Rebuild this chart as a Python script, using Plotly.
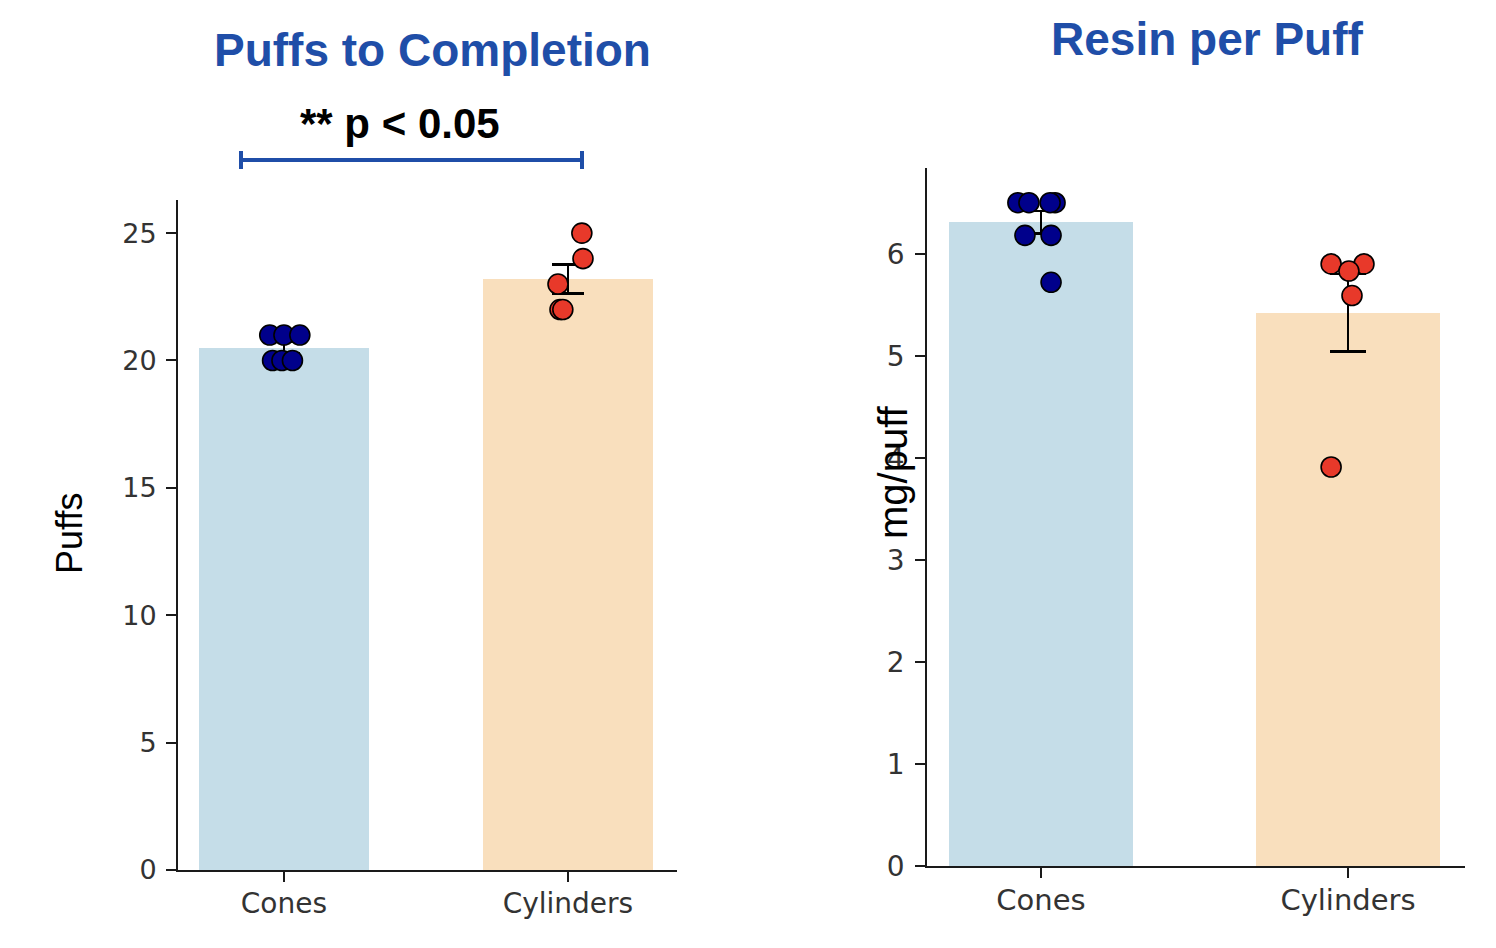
import plotly.graph_objects as go

# ---- data ----
categories = ["Cones", "Cylinders"]

# Puffs to Completion
puffs_cones = [21, 21, 21, 20, 20, 20]
puffs_cones_jit = [-0.05, 0.0, 0.056, -0.04, -0.007, 0.03]
puffs_cyl = [25, 24, 23, 22, 22]
puffs_cyl_jit = [0.049, 0.053, -0.035, -0.028, -0.018]
puffs_means = [20.5, 23.2]
puffs_sems = [0.22, 0.58]

# Resin per Puff (mg/puff)
resin_cones = [6.5, 6.5, 6.5, 6.5, 6.18, 6.18, 5.72]
resin_cones_jit = [-0.075, -0.039, 0.046, 0.03, -0.052, 0.033, 0.033]
resin_cyl = [5.90, 5.90, 5.83, 5.59, 3.91]
resin_cyl_jit = [-0.055, 0.052, 0.003, 0.013, -0.055]
resin_means = [6.31, 5.42]
resin_sems = [0.11, 0.38]

left_ticks = [0, 5, 10, 15, 20, 25]
right_ticks = [0, 1, 2, 3, 4, 5, 6]

BAR_COLORS = ["#c5dde8", "#f9dfbd"]
PT_COLORS = ["#00008b", "#e8392a"]
TITLE_BLUE = "#1f4ea8"
W, H = 1496, 948

fig = go.Figure()


def add_panel(means, sems, groups, jits, xa, ya, cap):
    fig.add_trace(go.Bar(
        x=[0, 1], y=means, width=0.6, marker=dict(color=BAR_COLORS, line=dict(width=0)),
        error_y=dict(type="data", array=sems, visible=True, color="black",
                     thickness=2.6, width=cap),
        xaxis=xa, yaxis=ya, showlegend=False, hoverinfo="skip"))
    for i, (vals, jit) in enumerate(zip(groups, jits)):
        fig.add_trace(go.Scatter(
            x=[i + j for j in jit], y=vals, mode="markers",
            marker=dict(size=20, color=PT_COLORS[i], line=dict(color="black", width=1.6)),
            xaxis=xa, yaxis=ya, showlegend=False, hoverinfo="skip"))


add_panel(puffs_means, puffs_sems, [puffs_cones, puffs_cyl],
          [puffs_cones_jit, puffs_cyl_jit], "x", "y", 16)
add_panel(resin_means, resin_sems, [resin_cones, resin_cyl],
          [resin_cones_jit, resin_cyl_jit], "x2", "y2", 18)


def px(v):
    return v / W


def py(v):
    return 1 - v / H


axis_common = dict(showline=True, linecolor="#1a1a1a", linewidth=1.8, ticks="outside",
                   ticklen=10, tickwidth=1.6, tickcolor="#1a1a1a", showgrid=False,
                   zeroline=False, mirror=False, automargin=False)

fig.update_layout(
    width=W, height=H, autosize=False,
    margin=dict(l=0, r=0, t=0, b=0, pad=0, autoexpand=False),
    paper_bgcolor="white", plot_bgcolor="white", bargap=0,
    xaxis=dict(domain=[px(178), px(677)], range=[-0.373, 1.384], tickvals=[0, 1],
               ticktext=categories, anchor="y", ticklabelstandoff=-3,
               tickfont=dict(family="DejaVu Sans", size=28, color="#333"), **axis_common),
    yaxis=dict(domain=[py(870), py(200)], range=[0, 26.3], tickvals=left_ticks,
               anchor="x", ticklabelstandoff=4,
               tickfont=dict(family="DejaVu Sans", size=27, color="#333"),
               **axis_common),
    xaxis2=dict(domain=[px(927), px(1465)], range=[-0.371, 1.381], tickvals=[0, 1],
                ticktext=categories, anchor="y2", ticklabelstandoff=-3,
                tickfont=dict(family="DejaVu Sans", size=29, color="#333"), **axis_common),
    yaxis2=dict(domain=[py(866), py(168)], range=[0, 6.84], tickvals=right_ticks,
                anchor="x2", ticklabelstandoff=5,
                tickfont=dict(family="DejaVu Sans", size=28, color="#333"),
                **axis_common),
)

ann = [
    dict(text="<b>Puffs to Completion</b>", x=px(432), y=py(50), font=dict(size=46, color=TITLE_BLUE)),
    dict(text="<b>Resin per Puff</b>", x=px(1207), y=py(39), font=dict(size=46, color=TITLE_BLUE)),
    dict(text="<b>** p < 0.05</b>", x=px(400), y=py(124), font=dict(size=42, color="black")),
    dict(text="Puffs", x=px(69), y=py(534), textangle=-90, font=dict(size=36, color="black")),
    dict(text="mg/puff", x=px(893), y=py(472), textangle=-90, font=dict(size=40, color="black")),
]
for a in ann:
    a.update(xref="paper", yref="paper", showarrow=False, xanchor="center", yanchor="middle")
    a["font"]["family"] = "Liberation Sans"
fig.update_layout(annotations=ann)

line = dict(color=TITLE_BLUE, width=4)
fig.add_shape(type="line", xref="paper", yref="paper", x0=px(241), x1=px(582), y0=py(160), y1=py(160), line=line)
fig.add_shape(type="line", xref="paper", yref="paper", x0=px(241), x1=px(241), y0=py(151), y1=py(169), line=line)
fig.add_shape(type="line", xref="paper", yref="paper", x0=px(582), x1=px(582), y0=py(151), y1=py(169), line=line)

fig.write_html("out.html")
